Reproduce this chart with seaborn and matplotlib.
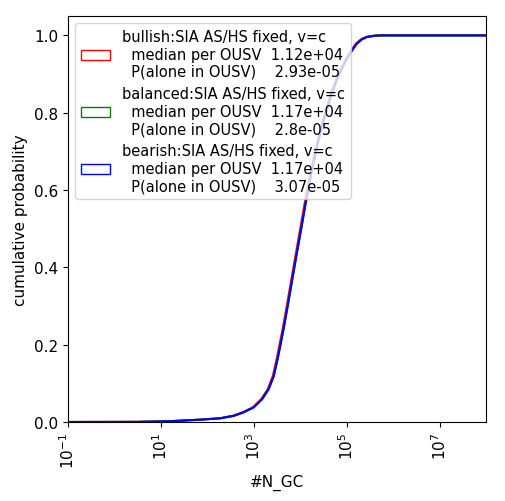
import matplotlib
matplotlib.use("Agg")
import matplotlib.pyplot as plt
from matplotlib.patches import Patch
import seaborn as sns
import pandas as pd

plt.rcParams["font.size"] = 11

# --- dados (probabilidade acumulada x #N_GC) ---
cdf_levels = [0, 0.0003, 0.002, 0.006, 0.0095, 0.016, 0.025, 0.038, 0.059, 0.085, 0.119,
              0.167, 0.24, 0.30, 0.363, 0.432, 0.50, 0.562, 0.638, 0.712, 0.765, 0.81,
              0.85, 0.885, 0.915, 0.94, 0.962, 0.979, 0.99, 0.996, 0.999, 1.0, 1.0]

n_bullish = [0.1, 3.1, 15.3, 68, 181, 355, 576, 955, 1440, 2000, 2570,
             3160, 4170, 5130, 6310, 7950, 10000, 12300, 16200, 21900, 28200, 36300,
             45700, 58900, 75800, 97400, 126000, 159000, 204000, 263000, 380000, 513000, 1e8]
n_balanced = [0.1, 3.2, 16, 71, 190, 371, 601, 998, 1505, 2085, 2685,
              3305, 4360, 5360, 6600, 8300, 10480, 12870, 16960, 22850, 29440, 37920,
              47800, 61570, 79240, 101800, 131700, 165700, 213600, 274400, 397000, 536000, 1e8]
n_bearish = [0.1, 3.2, 16, 71, 190, 372, 603, 1000, 1510, 2090, 2690,
             3310, 4370, 5370, 6610, 8320, 10500, 12900, 17000, 22900, 29500, 38000,
             47900, 61700, 79400, 102000, 132000, 166000, 214000, 275000, 398000, 537000, 1e8]

scenarios = ["bullish", "balanced", "bearish"]
medians = ["1.12e+04", "1.17e+04", "1.17e+04"]
p_alone = ["2.93e-05", "2.8e-05", "3.07e-05"]
colors = ["red", "green", "blue"]

fig = plt.figure(figsize=(5.05, 5.02), dpi=100)
ax = fig.add_axes([0.1347, 0.1574, 0.9624 - 0.1347, 0.966 - 0.1574])

series = [n_bullish, n_balanced, n_bearish]
handles = []
for name, n_vals, med, p, cor in zip(scenarios, series, medians, p_alone, colors):
    df = pd.DataFrame({"N": n_vals, "cdf": cdf_levels})
    sns.lineplot(data=df, x="N", y="cdf", color=cor, linewidth=1.5, ax=ax,
                 estimator=None, sort=False)
    label = (f"{name}:SIA AS/HS fixed, v=c\n"
             f"  median per OUSV  {med}\n"
             f"  P(alone in OUSV)    {p}")
    handles.append(Patch(facecolor="none", edgecolor=cor, label=label))

ax.set_xscale("log")
ax.set_xlim(0.1, 1e8)
ax.set_ylim(0, 1.05)
ax.set_xticks([1e-1, 1e1, 1e3, 1e5, 1e7])
ax.minorticks_off()
plt.setp(ax.get_xticklabels(), rotation=90)
ax.set_xlabel("#N_GC")
ax.set_ylabel("cumulative probability")
ax.legend(handles=handles, loc="upper left", fontsize=10.5)

fig.savefig("out.png", dpi=100)
